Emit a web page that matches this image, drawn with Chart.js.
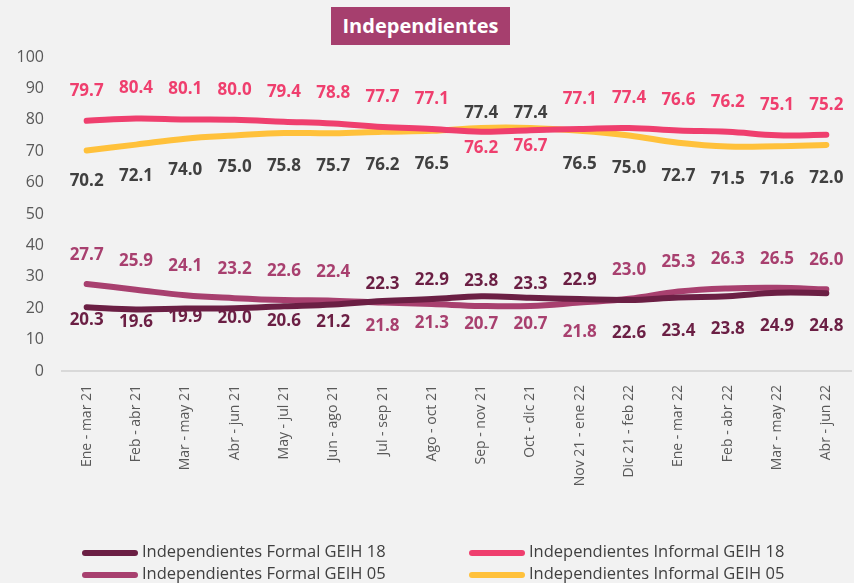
<!DOCTYPE html>
<html>
<head>
<meta charset="utf-8">
<script src="https://cdn.jsdelivr.net/npm/chart.js@4"></script>
<style>
  body { margin: 0; background: #F2F2F2; }
  #wrap { position: relative; width: 854px; height: 583px; font-family: "Open Sans", sans-serif; }
  #grafica { position: absolute; left: 0; top: 0; }
  #titulo { position: absolute; left: 331px; top: 7px; width: 179px; height: 38px; background: #A63F6E;
            color: #fff; font-weight: bold; font-size: 20px; line-height: 38px; text-align: center; }
  .item { position: absolute; height: 22px; line-height: 22px; font-size: 16.5px; color: #404040; white-space: nowrap; }
  .item span.linea { display: inline-block; width: 56px; height: 6px; border-radius: 3px; vertical-align: middle; margin-right: 4px; }
</style>
</head>
<body>
<div id="wrap">
  <canvas id="grafica" width="854" height="583"></canvas>
  <div id="titulo">Independientes</div>
  <div id="leyenda"></div>
</div>
<script>
var periodos = ['Ene - mar 21', 'Feb - abr 21', 'Mar - may 21', 'Abr - jun 21', 'May - jul 21', 'Jun - ago 21',
  'Jul - sep 21', 'Ago - oct 21', 'Sep - nov 21', 'Oct - dic 21', 'Nov 21 - ene 22', 'Dic 21 - feb 22',
  'Ene - mar 22', 'Feb - abr 22', 'Mar - may 22', 'Abr - jun 22'];

var formal18   = [20.3, 19.6, 19.9, 20.0, 20.6, 21.2, 22.3, 22.9, 23.8, 23.3, 22.9, 22.6, 23.4, 23.8, 24.9, 24.8];
var informal18 = [79.7, 80.4, 80.1, 80.0, 79.4, 78.8, 77.7, 77.1, 76.2, 76.7, 77.1, 77.4, 76.6, 76.2, 75.1, 75.2];
var formal05   = [27.7, 25.9, 24.1, 23.2, 22.6, 22.4, 21.8, 21.3, 20.7, 20.7, 21.8, 23.0, 25.3, 26.3, 26.5, 26.0];
var informal05 = [70.2, 72.1, 74.0, 75.0, 75.8, 75.7, 76.2, 76.5, 77.4, 77.4, 76.5, 75.0, 72.7, 71.5, 71.6, 72.0];

var ticksY = [0, 10, 20, 30, 40, 50, 60, 70, 80, 90, 100];

// desplazamiento vertical de cada etiqueta (px), negativo = arriba
var despF18 = [13, 13, 9, 10, 15, 18, -17, -19, -15, -14, -19, 33, 34, 33, 33, 33];
var despI18 = [-30, -30, -30, -30, -30, -30, -30, -30, 16, 16, -30, -30, -30, -30, -30, -30];
var despF05 = [-29, -29, -29, -29, -29, -29, 24, 19, 18, 18, 30, -29, -29, -29, -29, -29];
var despI05 = [31, 32, 32, 32, 33, 33, 33, 33, -15, -15, 33, 33, 33, 33, 33, 33];

var series = [
  { label: 'Independientes Formal GEIH 18', data: formal18, color: '#6B1F44', texto: '#6B1F44', desp: despF18 },
  { label: 'Independientes Informal GEIH 18', data: informal18, color: '#EF3F6E', texto: '#EF3F6E', desp: despI18 },
  { label: 'Independientes Formal GEIH 05', data: formal05, color: '#A8406F', texto: '#A8406F', desp: despF05 },
  { label: 'Independientes Informal GEIH 05', data: informal05, color: '#FFC13B', texto: '#404040', desp: despI05 }
];

var etiquetas = {
  id: 'etiquetas',
  afterDatasetsDraw: function (chart) {
    var ctx = chart.ctx;
    ctx.save();
    ctx.font = 'bold 17px "Open Sans"';
    ctx.textAlign = 'center';
    ctx.textBaseline = 'middle';
    chart.data.datasets.forEach(function (ds, i) {
      var meta = chart.getDatasetMeta(i);
      ctx.fillStyle = series[i].texto;
      meta.data.forEach(function (pt, j) {
        ctx.fillText(ds.data[j].toFixed(1), pt.x, pt.y + series[i].desp[j]);
      });
    });
    ctx.restore();
  }
};

var ctx = document.getElementById('grafica').getContext('2d');
new Chart(ctx, {
  type: 'line',
  data: {
    labels: periodos,
    datasets: series.map(function (s) {
      return {
        label: s.label,
        data: s.data,
        borderColor: s.color,
        backgroundColor: s.color,
        borderWidth: 6,
        borderCapStyle: 'round',
        tension: 0.4,
        pointRadius: 0,
        fill: false
      };
    })
  },
  options: {
    responsive: false,
    animation: false,
    layout: { padding: { top: 57, left: 0, right: 3, bottom: 0 } },
    plugins: {
      legend: { display: false },
      tooltip: { enabled: false }
    },
    scales: {
      x: {
        offset: true,
        grid: { display: false },
        border: { color: '#D9D9D9', width: 2 },
        ticks: { minRotation: 90, maxRotation: 90, color: '#595959', font: { family: 'Open Sans', size: 14 }, padding: 6 },
        afterFit: function (s) { s.height = 212; }
      },
      y: {
        min: 0,
        max: 100,
        grid: { display: false, drawTicks: false },
        border: { display: false },
        afterBuildTicks: function (s) { s.ticks = ticksY.map(function (v) { return { value: v }; }); },
        ticks: { color: '#595959', font: { family: 'Open Sans', size: 16 }, padding: 18 },
        afterFit: function (s) { s.width = 62; }
      }
    }
  },
  plugins: [etiquetas]
});

// leyenda en dos columnas
var posLeyenda = [[82, 540], [469, 540], [82, 562], [469, 562]];
var leyenda = document.getElementById('leyenda');
series.forEach(function (s, i) {
  var d = document.createElement('div');
  d.className = 'item';
  d.style.left = posLeyenda[i][0] + 'px';
  d.style.top = posLeyenda[i][1] + 'px';
  d.innerHTML = '<span class="linea" style="background:' + s.color + '"></span>' + s.label;
  leyenda.appendChild(d);
});
</script>
</body>
</html>
